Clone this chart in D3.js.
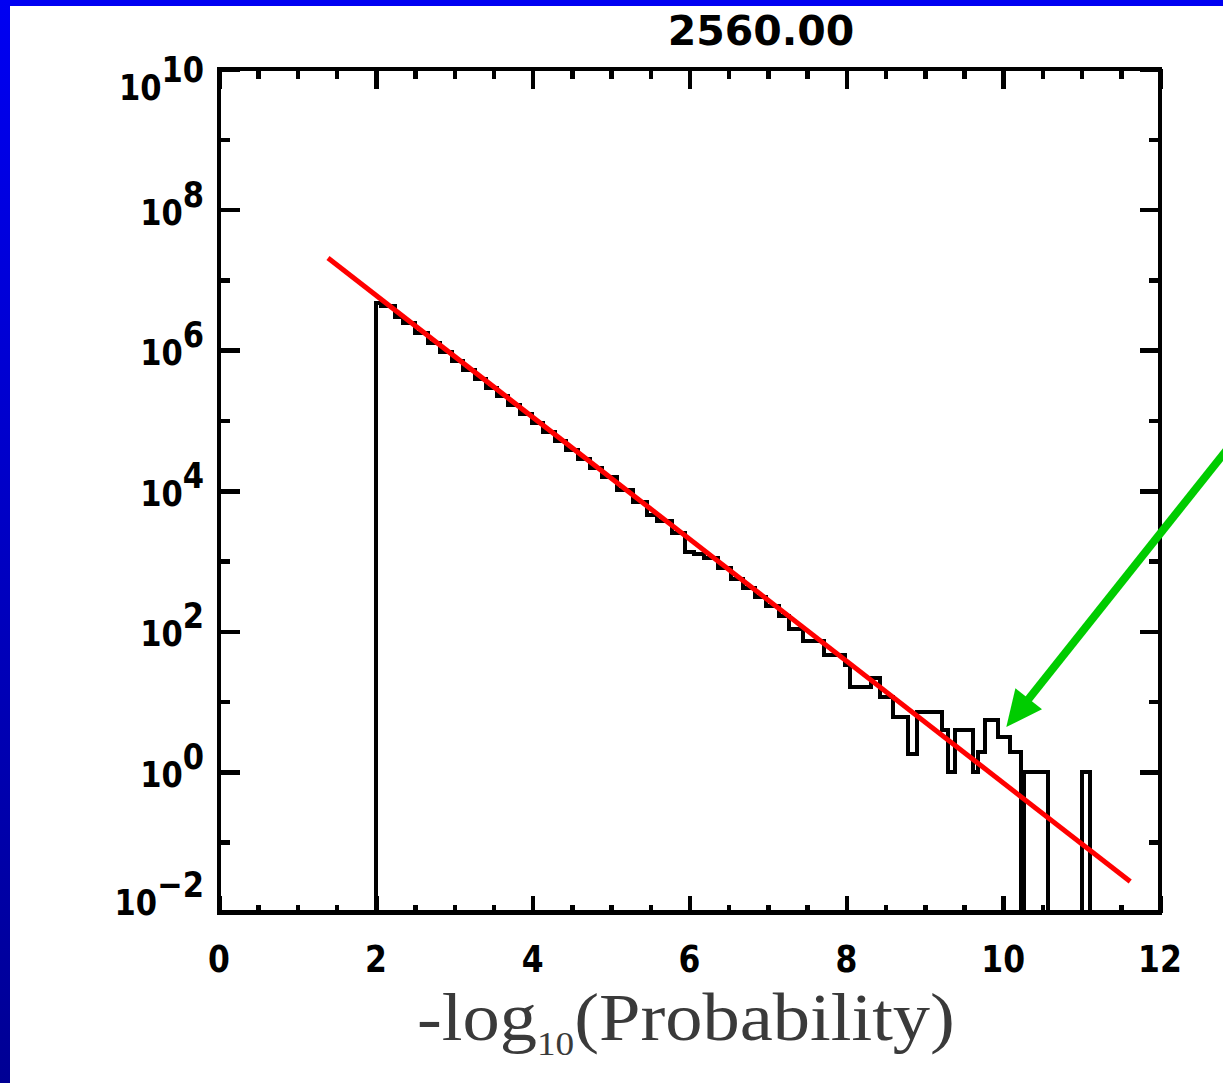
<!DOCTYPE html>
<html><head><meta charset="utf-8">
<script src="https://cdn.jsdelivr.net/npm/d3@7"></script>
<style>html,body{margin:0;padding:0;background:#fff;overflow:hidden} svg{display:block}</style>
</head><body>
<svg id="c" width="1223" height="1083"></svg>
<script>
// ---------------- data ----------------
const chartTitle = "2560.00";
const xTickValues = [0, 2, 4, 6, 8, 10, 12];
const xTickLabels = ["0", "2", "4", "6", "8", "10", "12"];
const xMinorTicks = [0.5, 1, 1.5, 2.5, 3, 3.5, 4.5, 5, 5.5, 6.5, 7, 7.5, 8.5, 9, 9.5, 10.5, 11, 11.5];
const yMajorExps = [-2, 0, 2, 4, 6, 8, 10];
const yMinorExps = [-1, 1, 3, 5, 7, 9];
const xTitleMain = "-log";
const xTitleSub = "10";
const xTitleTail = "(Probability)";

// histogram bin edges (-log10 P) and log10(count) per bin; null = empty bin
const binEdges = [2.00, 2.06, 2.25, 2.35, 2.50, 2.67, 2.82, 2.97, 3.11, 3.26, 3.41, 3.54, 3.69, 3.84, 3.99,
  4.13, 4.28, 4.43, 4.58, 4.73, 4.88, 5.08, 5.28, 5.46, 5.59, 5.78, 5.94, 6.06, 6.19, 6.36, 6.53, 6.68,
  6.83, 6.98, 7.14, 7.27, 7.45, 7.71, 7.98, 8.05, 8.32, 8.43, 8.60, 8.79, 8.90, 9.22, 9.30, 9.38, 9.62,
  9.68, 9.77, 9.94, 10.09, 10.23, 10.27, 10.57, 11.00, 11.11];
const binLogCounts = [6.67, 6.63, 6.47, 6.38, 6.25, 6.10, 5.97, 5.84, 5.72, 5.59, 5.46, 5.35, 5.22, 5.09,
  4.96, 4.84, 4.71, 4.58, 4.45, 4.32, 4.19, 4.01, 3.84, 3.66, 3.57, 3.40, 3.13, 3.10, 3.05, 2.90, 2.75,
  2.62, 2.49, 2.36, 2.22, 2.03, 1.86, 1.66, 1.52, 1.21, 1.33, 1.06, 0.78, 0.26, 0.85, 0.60, 0.00, 0.60,
  0.00, 0.28, 0.74, 0.49, 0.28, null, 0.00, null, 0.00];

// fitted power-law line (two end points)
const fitX = [1.39, 11.62];
const fitLogCounts = [7.31, -1.56];

// green annotation arrow (data coords: x, log10 count)
const arrowFrom = [12.80, 4.51];
const arrowTo = [10.04, 0.64];

// ---------------- drawing ----------------
const svg = d3.select("#c");
const W = 1223, H = 1083;
const x = d3.scaleLinear().domain([0, 12]).range([219, 1160]);
const y = d3.scaleLog().domain([1e-2, 1e10]).range([912.5, 69]);
const yBottom = y.range()[0];
const yOf = v => v === null ? yBottom : y(Math.pow(10, v));

// blue slide frame
const defs = svg.append("defs");
const grad = defs.append("linearGradient").attr("id", "lg").attr("x1", 0).attr("y1", 0).attr("x2", 0).attr("y2", 1);
grad.append("stop").attr("offset", "0%").attr("stop-color", "#0000f2");
grad.append("stop").attr("offset", "100%").attr("stop-color", "#000094");
svg.append("rect").attr("x", 0).attr("y", 0).attr("width", W).attr("height", 6).attr("fill", "#0000f2");
svg.append("rect").attr("x", 0).attr("y", 0).attr("width", 10).attr("height", H).attr("fill", "url(#lg)");

// histogram
const pts = [[binEdges[0], null]];
for (let i = 0; i < binLogCounts.length; i++) {
  pts.push([binEdges[i], binLogCounts[i]]);
  pts.push([binEdges[i + 1], binLogCounts[i]]);
}
pts.push([binEdges[binEdges.length - 1], null]);
svg.append("path")
  .attr("d", d3.line().x(d => x(d[0])).y(d => yOf(d[1]))(pts))
  .attr("fill", "none").attr("stroke", "#000").attr("stroke-width", 4)
  .attr("stroke-linejoin", "miter").attr("shape-rendering", "crispEdges");

// fit line
svg.append("path")
  .attr("d", d3.line().x(d => x(d[0])).y(d => yOf(d[1]))(fitX.map((v, i) => [v, fitLogCounts[i]])))
  .attr("fill", "none").attr("stroke", "#ff0000").attr("stroke-width", 5);

// axes (ticks on all four sides, pointing inward)
function axisG(axis, tx, ty) {
  const g = svg.append("g").attr("transform", `translate(${tx},${ty})`).call(axis);
  g.select(".domain").remove();
  g.selectAll("text").remove();
  g.selectAll("line").attr("stroke", "#000").attr("stroke-width", 4.5).attr("shape-rendering", "crispEdges");
  return g;
}
const [pl, pr] = x.range();
const [pb, pt] = y.range();
axisG(d3.axisBottom(x).tickValues(xTickValues).tickSize(-17).tickFormat(""), 0, pb);
axisG(d3.axisBottom(x).tickValues(xMinorTicks).tickSize(-8).tickFormat(""), 0, pb);
axisG(d3.axisTop(x).tickValues(xTickValues).tickSize(-20).tickFormat(""), 0, pt);
axisG(d3.axisTop(x).tickValues(xMinorTicks).tickSize(-10).tickFormat(""), 0, pt);
const yMaj = yMajorExps.map(e => Math.pow(10, e));
const yMin = yMinorExps.map(e => Math.pow(10, e));
axisG(d3.axisLeft(y).tickValues(yMaj).tickSize(-21).tickFormat(""), pl, 0);
axisG(d3.axisLeft(y).tickValues(yMin).tickSize(-11).tickFormat(""), pl, 0);
axisG(d3.axisRight(y).tickValues(yMaj).tickSize(-20).tickFormat(""), pr, 0);
axisG(d3.axisRight(y).tickValues(yMin).tickSize(-11).tickFormat(""), pr, 0);

// frame
svg.append("rect").attr("x", pl).attr("y", pt).attr("width", pr - pl).attr("height", pb - pt)
  .attr("fill", "none").attr("stroke", "#000").attr("stroke-width", 4.5).attr("shape-rendering", "crispEdges");

const labFont = "'DejaVu Sans', sans-serif";

// x tick labels
xTickValues.forEach((v, i) => {
  svg.append("g").attr("transform", `translate(${x(v)},972) scale(0.85,1)`)
    .append("text").attr("text-anchor", "middle").attr("font-family", labFont)
    .attr("font-weight", "bold").attr("font-size", 37).attr("fill", "#000")
    .text(xTickLabels[i]);
});

// y tick labels 10^n
yMajorExps.forEach((e, i) => {
  let off = 0;
  if (i === yMajorExps.length - 1) off = 16;
  if (i === 0) off = -12.5;
  const g = svg.append("g").attr("transform", `translate(204,${y(Math.pow(10, e)) + 15 + off}) scale(0.85,1)`);
  const t = g.append("text").attr("text-anchor", "end").attr("font-family", labFont)
    .attr("font-weight", "bold").attr("font-size", 36).attr("fill", "#000");
  t.append("tspan").text("10");
  t.append("tspan").attr("dy", -18).text(e < 0 ? "\u2212" + Math.abs(e) : String(e));
});

// title
svg.append("text").attr("x", 761).attr("y", 45).attr("text-anchor", "middle")
  .attr("font-family", labFont).attr("font-weight", "bold").attr("font-size", 41)
  .attr("fill", "#000").text(chartTitle);

// x axis title
const xtG = svg.append("g");
const xt = xtG.append("text").attr("font-family", "'Liberation Serif', 'Times New Roman', serif")
  .attr("font-size", 68).attr("fill", "#3a3a3a");
xt.append("tspan").text(xTitleMain);
xt.append("tspan").attr("font-size", 34).attr("dy", 15).text(xTitleSub);
xt.append("tspan").attr("dy", -15).text(xTitleTail);
const bb = xt.node().getBBox();
const sx = 538 / bb.width;
xtG.attr("transform", `translate(${417 - bb.x * sx},1040) scale(${sx},1)`);

// green arrow
const p0 = [x(arrowFrom[0]), yOf(arrowFrom[1])];
const p1 = [x(arrowTo[0]), yOf(arrowTo[1])];
const dx = p1[0] - p0[0], dy = p1[1] - p0[1];
const len = Math.hypot(dx, dy);
const ux = dx / len, uy = dy / len, nx = -uy, ny = ux;
const headL = 36, headW = 17;
const base = [p1[0] - ux * headL, p1[1] - uy * headL];
svg.append("line").attr("x1", p0[0] + ux * -10).attr("y1", p0[1] + uy * -10)
  .attr("x2", base[0] + ux * 4).attr("y2", base[1] + uy * 4)
  .attr("stroke", "#00cc00").attr("stroke-width", 8);
svg.append("path")
  .attr("d", d3.line()([p1, [base[0] + nx * headW, base[1] + ny * headW], [base[0] - nx * headW, base[1] - ny * headW]]) + "Z")
  .attr("fill", "#00cc00");
</script>
</body></html>
